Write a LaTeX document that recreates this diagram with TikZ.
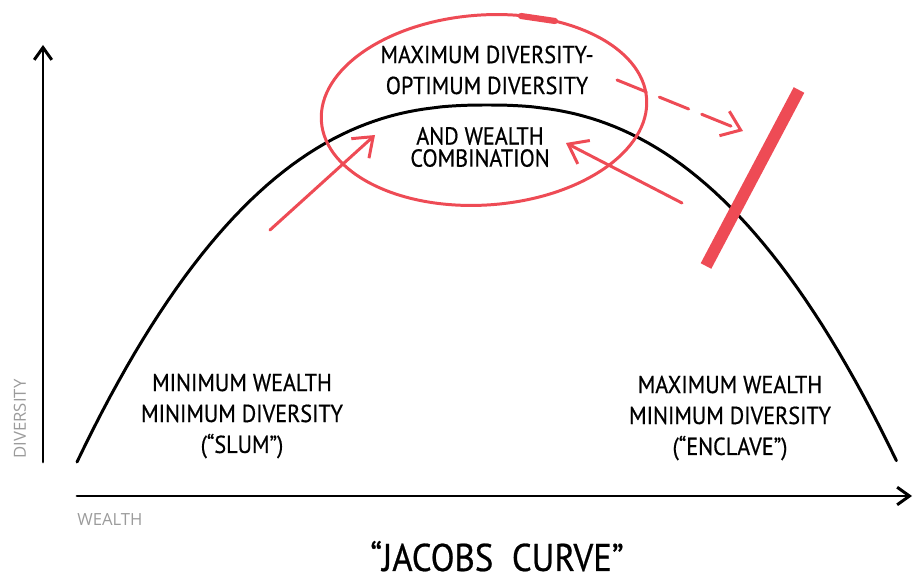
\documentclass[tikz,border=0pt]{standalone}
\usepackage{fontspec}
\newfontfamily\handfont[FakeStretch=0.9, FakeBold=0.6]{PT Sans}
\newfontfamily\labelfont{Open Sans}
\usetikzlibrary{arrows.meta,positioning,calc}
\definecolor{penred}{HTML}{EE4B55}
\definecolor{axisgray}{HTML}{9B9B9B}

\begin{document}
\begin{tikzpicture}[x=0.02cm, y=-0.02cm, line cap=round,
  ink/.style={line width=1.7pt, black},
  redpen/.style={line width=1.7pt, penred},
  hand/.style={font=\handfont\fontsize{14}{17.6}\selectfont, align=center, inner sep=0pt},
  tight/.style={font=\handfont\fontsize{14}{12.6}\selectfont},
  axlab/.style={font=\labelfont\fontsize{9.5}{11}\selectfont, text=axisgray, inner sep=0pt},
  barb/.style={-{Straight Barb[length=10pt, width=15pt]}},
  axtip/.style={-{Straight Barb[length=7pt, width=10pt]}}]
\useasboundingbox (0,0) rectangle (914,584);
% axes
\coordinate (ybot) at (43,462); \coordinate (ytop) at (43,45);
\coordinate (xleft) at (77,496); \coordinate (xright) at (912,496);
\draw[ink, axtip] (ybot) -- (ytop);
\draw[ink, axtip] (xleft) -- (xright);
\node[axlab, rotate=90] (ylab) at (20,419) {DIVERSITY};
\node[axlab, anchor=west] (xlab) at (77,520) {WEALTH};
% the curve
\draw[ink] plot[domain=-1:1, samples=100] ({487+410*\x},{105+357*abs(\x)^2.4});
% ring round the peak
\draw[redpen, rotate around={4:(484,110)}] (484,110) ellipse [x radius=163, y radius=95];
\draw[redpen, line width=3.5pt] (521,16) -- (555,21);
\node[hand] (peaktop) at (487,70) {MAXIMUM DIVERSITY-\\OPTIMUM DIVERSITY};
\node[hand, tight] (peakbot) at (480,147) {AND WEALTH\\COMBINATION};
% arrows towards the peak
\coordinate (lfrom) at (270,230); \coordinate (lto) at (375,135);
\coordinate (rfrom) at (682,203); \coordinate (rto) at (566,143);
\draw[redpen, barb] (lfrom) -- (lto);
\draw[redpen, barb] (rfrom) -- (rto);
\coordinate (dfrom) at (617,80); \coordinate (dto) at (743,131);
\draw[redpen, barb, dash pattern=on 18pt off 8pt] (dfrom) -- (dto);
% cut mark
\coordinate (barlo) at (706,266); \coordinate (barhi) at (799,90);
\draw[penred, line width=6.8pt, line cap=butt] (barlo) -- (barhi);
% end labels
\node[hand] (slum) at (242,416) {MINIMUM WEALTH\\MINIMUM DIVERSITY\\(“SLUM”)};
\node[hand] (enclave) at (730,418) {MAXIMUM WEALTH\\MINIMUM DIVERSITY\\(“ENCLAVE”)};
\node[font=\handfont\fontsize{22}{25}\selectfont, inner sep=0pt, text depth=0pt, anchor=base] (title) at (497,571) {“JACOBS\ \ CURVE”};
\end{tikzpicture}
\end{document}
